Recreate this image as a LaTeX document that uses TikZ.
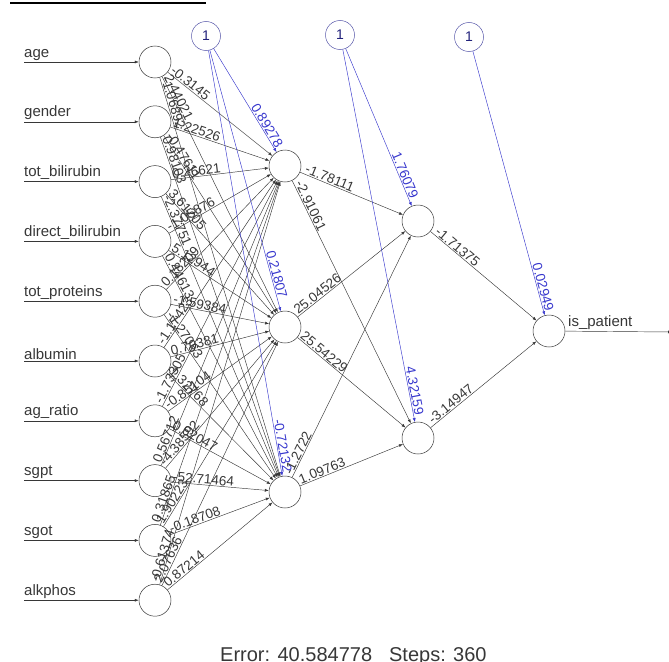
\documentclass[tikz,border=0pt]{standalone}
\usepackage{fontspec}
\setmainfont{Liberation Sans}
\usetikzlibrary{arrows.meta,calc}
\definecolor{ink}{RGB}{55,55,55}
\definecolor{biasblue}{RGB}{55,55,205}
\begin{document}
\begin{tikzpicture}[x=1pt,y=-1pt,
  neuron/.style={circle, draw=ink, line width=0.5pt, minimum size=32pt, inner sep=0pt, fill=white},
  biasnode/.style={circle, draw=biasblue!55!gray, line width=0.5pt, minimum size=29pt, inner sep=0pt, fill=white, text=biasblue!60!black, font=\fontsize{14}{16}\selectfont},
  conn/.style={draw=ink, line width=0.45pt, -{Latex[length=4pt,width=3pt]}},
  bconn/.style={draw=biasblue, line width=0.45pt, -{Latex[length=4pt,width=3pt]}},
  inlab/.style={inner sep=0pt, text=ink, font=\fontsize{15}{17}\selectfont},
  wlab/.style={sloped, inner xsep=1.5pt, inner ysep=0.8pt, text=ink, font=\fontsize{13.5}{15}\selectfont},
  blab/.style={sloped, inner xsep=3pt, inner ysep=0.8pt, text=biasblue, font=\fontsize{13.5}{15}\selectfont},
]
\useasboundingbox (0,0) rectangle (669,661);
\clip (0,0) rectangle (669,661);
\fill[black] (10,1.8) rectangle (206,4.3);

% input layer
\foreach \lab [count=\i] in {age,gender,tot\_bilirubin,direct\_bilirubin,tot\_proteins,albumin,ag\_ratio,sgpt,sgot,alkphos}{
  \pgfmathsetmacro\yy{62+59.8*(\i-1)}
  \coordinate (s\i) at (24,\yy);
  \node[inlab, anchor=south west] (l\i) at (24,\yy-1.5) {\lab};
  \node[neuron] (i\i) at (155,\yy) {};
  \draw[conn] (s\i) -- (i\i);
}

% hidden layer 1
\node[neuron] (h1) at (285,166) {};
\node[neuron] (h2) at (285,327) {};
\node[neuron] (h3) at (285,492) {};
% hidden layer 2
\node[neuron] (g1) at (418,221) {};
\node[neuron] (g2) at (418,438) {};
% output
\node[neuron] (out) at (549,331) {};
% bias nodes
\node[biasnode] (b1) at (206,36) {1};
\node[biasnode] (b2) at (340,35) {1};
\node[biasnode] (b3) at (469,37) {1};

% input -> hidden 1
\foreach \i/\a/\b/\c in {
  1/-0.3145/2.44021/-1.06892,
  2/1.22526/-0.47611/0.98103,
  3/0.26621/3.61205/-2.37751,
  4/-1.05876/5.12944/0.44613,
  5/0.18209/-1.59384/-1.27063,
  6/-1.17423/0.70381/1.32768,
  7/-1.73305/-0.85104/0.62047,
  8/0.56712/-4.38592/-52.71464,
  9/0.31865/1.90223/-0.18708,
  10/-0.61374/2.07636/0.87214}{
  \draw[conn] (i\i) -- (h1) node[wlab, pos=0, anchor=south west] {\a};
  \draw[conn] (i\i) -- (h2) node[wlab, pos=0, anchor=south west] {\b};
  \draw[conn] (i\i) -- (h3) node[wlab, pos=0, anchor=south west] {\c};
}

% bias 1 -> hidden 1
\draw[bconn] (b1) -- (h1) node[blab, pos=1, anchor=south east] {0.89278};
\draw[bconn] (b1) -- (h2) node[blab, pos=1, anchor=south east, inner xsep=12pt] {0.21807};
\draw[bconn] (b1) -- (h3) node[blab, pos=1, anchor=south east] {-0.72132};

% hidden 1 -> hidden 2
\draw[conn] (h1) -- (g1) node[wlab, pos=0, anchor=south west, inner xsep=4pt] {-1.78111};
\draw[conn] (h1) -- (g2) node[wlab, pos=0, anchor=south west, inner xsep=4pt] {-2.91061};
\draw[conn] (h2) -- (g1) node[wlab, pos=0, anchor=south west] {25.04526};
\draw[conn] (h2) -- (g2) node[wlab, pos=0, anchor=south west] {25.54229};
\draw[conn] (h3) -- (g1) node[wlab, pos=0, anchor=south west] {-1.2722};
\draw[conn] (h3) -- (g2) node[wlab, pos=0, anchor=south west] {1.09763};

% bias 2 -> hidden 2
\draw[bconn] (b2) -- (g1) node[blab, pos=1, anchor=south east, inner xsep=6pt] {1.76079};
\draw[bconn] (b2) -- (g2) node[blab, pos=1, anchor=south east, inner xsep=6pt] {4.32159};

% hidden 2 -> output
\draw[conn] (g1) -- (out) node[wlab, pos=0, anchor=south west, inner xsep=4pt] {-1.71375};
\draw[conn] (g2) -- (out) node[wlab, pos=0, anchor=south west, inner xsep=4pt] {-3.14947};
\draw[bconn] (b3) -- (out) node[blab, pos=1, anchor=south east] {0.02949};

% output line
\coordinate (oend) at (672,332);
\draw[conn] (out) -- (oend);
\node[inlab, anchor=south west] (olab) at (568,330) {is\_patient};

% footer
\node[inlab, font=\fontsize{20}{24}\selectfont, anchor=base west] (err) at (220,661) {Error: 40.584778\hspace{17pt}Steps: 360};
\end{tikzpicture}
\end{document}
